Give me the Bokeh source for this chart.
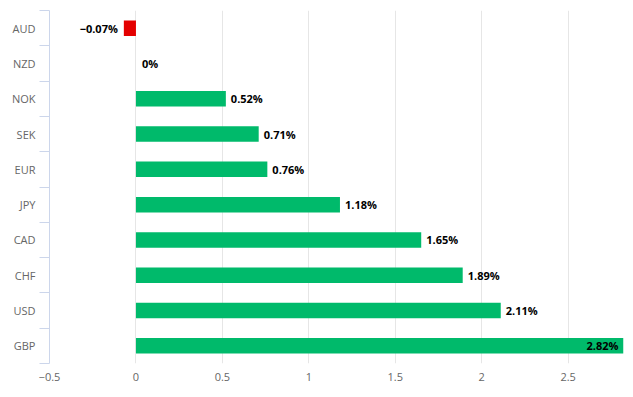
from bokeh.plotting import figure
from bokeh.models import ColumnDataSource, Range1d, FixedTicker
from bokeh.core.properties import value
from bokeh.embed import file_html
from bokeh.resources import INLINE

currencies = ["AUD", "NZD", "NOK", "SEK", "EUR", "JPY", "CAD", "CHF", "USD", "GBP"]
changes = [-0.07, 0.0, 0.52, 0.71, 0.76, 1.18, 1.65, 1.89, 2.11, 2.82]
x_ticks = [-0.5, 0, 0.5, 1, 1.5, 2, 2.5]
x_tick_labels = ["\u22120.5", "0", "0.5", "1", "1.5", "2", "2.5"]

GREEN = "#00ba6b"
RED = "#e40000"
X_MAX = 2.82

def fmt(v):
    if v == 0:
        return "0%"
    s = f"{v:.2f}%"
    return s.replace("-", "\u2212")

pos = [i + 0.5 for i in range(len(currencies))]
colors = [RED if v < 0 else GREEN for v in changes]
labels = [fmt(v) for v in changes]
aligns, offsets = [], []
for v in changes:
    if v < 0:
        aligns.append("right"); offsets.append(-6)
    elif v >= X_MAX - 0.2:
        aligns.append("right"); offsets.append(-5)
    else:
        aligns.append("left"); offsets.append(6 if v == 0 else 5)

src = ColumnDataSource(dict(y=pos, v=changes, c=colors, lab=labels,
                            al=aligns, off=offsets))

p = figure(width=625, height=389, output_backend="svg", toolbar_location=None,
           x_range=Range1d(-0.5, X_MAX), y_range=Range1d(len(currencies), 0),
           min_border_left=49, min_border_right=2, min_border_top=10,
           min_border_bottom=26)
p.outline_line_color = None
p.background_fill_color = "white"
p.border_fill_color = "white"

p.hbar(y="y", left=0, right="v", height=0.44, fill_color="c", line_color=None,
       source=src)
p.text(x="v", y="y", text="lab", x_offset="off", text_align="al",
       text_baseline="middle", text_font=value("Open Sans"),
       text_font_style="bold", text_font_size="11px", text_color="#000000",
       source=src)

# x axis
xa = p.xaxis[0]
xa.ticker = FixedTicker(ticks=x_ticks)
xa.major_label_overrides = {float(t): l for t, l in zip(x_ticks, x_tick_labels)}
xa.axis_line_color = None
xa.major_tick_line_color = None
xa.major_tick_out = 0
xa.major_tick_in = 0
xa.minor_tick_line_color = None
xa.major_label_standoff = 9
xa.major_label_text_font = "Open Sans"
xa.major_label_text_font_size = "11px"
xa.major_label_text_color = "#666666"

# y axis
ya = p.yaxis[0]
ya.ticker = FixedTicker(ticks=pos, minor_ticks=list(range(len(currencies) + 1)))
ya.major_label_overrides = {float(y): c for y, c in zip(pos, currencies)}
ya.axis_line_color = "#ccd6eb"
ya.major_tick_line_color = None
ya.major_tick_out = 0
ya.major_tick_in = 0
ya.minor_tick_line_color = "#ccd6eb"
ya.minor_tick_out = 10
ya.minor_tick_in = 0
ya.major_label_standoff = 4
ya.major_label_text_font = "Open Sans"
ya.major_label_text_font_size = "11px"
ya.major_label_text_color = "#666666"

p.xgrid.ticker = FixedTicker(ticks=x_ticks)
p.xgrid.grid_line_color = "#e6e6e6"
p.ygrid.grid_line_color = None

open("out.html", "w").write(file_html(p, INLINE))
